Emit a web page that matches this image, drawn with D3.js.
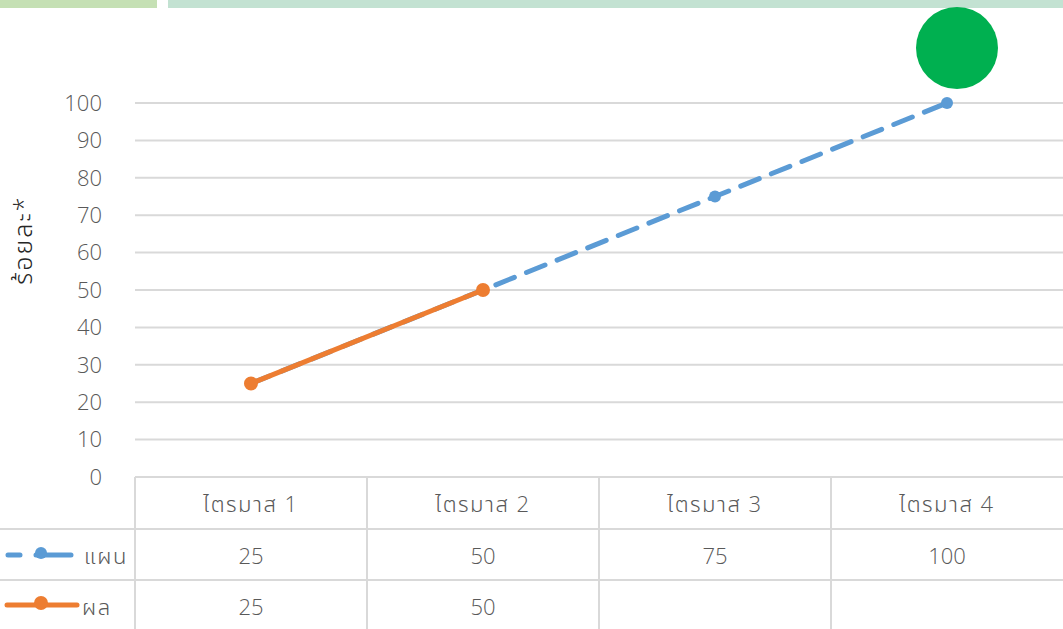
<!DOCTYPE html>
<html><head><meta charset="utf-8">
<script src="https://cdn.jsdelivr.net/npm/d3@7/dist/d3.min.js"></script>
<style>body{margin:0;background:#fff;} svg{display:block;font-family:"Open Sans","Noto Sans","Noto Sans Thai",sans-serif;}</style>
</head><body><svg id="c" width="1063" height="629"></svg>
<script>
const categories = ["ไตรมาส 1","ไตรมาส 2","ไตรมาส 3","ไตรมาส 4"];
const planValues = [25,50,75,100];
const actualValues = [25,50,null,null];
const seriesNames = ["แผน","ผล"];
const yTicks = [0,10,20,30,40,50,60,70,80,90,100];
const yLabel = "ร้อยละ*";

(function(){
const svg = d3.select("#c");
const W=1063,H=629;
const pLeft=135,pRight=1063,pTop=103,pBottom=477;
const x = d3.scaleBand().domain(categories).range([pLeft,pRight]);
const y = d3.scaleLinear().domain([0,100]).range([pBottom,pTop]);
const cx = d => x(d)+x.bandwidth()/2;
const txt = "#595959", fs = 22, fw = 300;

svg.append("rect").attr("x",0).attr("y",0).attr("width",157).attr("height",8).attr("fill","#C5E0B4");
svg.append("rect").attr("x",168).attr("y",0).attr("width",W-168).attr("height",8).attr("fill","#C3E2D2");

svg.append("g").selectAll("line").data(yTicks.filter(t=>t>0)).join("line")
  .attr("x1",pLeft).attr("x2",pRight).attr("y1",d=>y(d)).attr("y2",d=>y(d))
  .attr("stroke","#D9D9D9").attr("stroke-width",2);

svg.append("g").selectAll("text").data(yTicks).join("text")
  .attr("x",102).attr("y",d=>y(d)).attr("dy","0.35em").attr("text-anchor","end")
  .attr("font-size",fs).attr("font-weight",fw).attr("fill",txt).text(d=>d);

svg.append("text").attr("transform","translate(32,240) rotate(-90)")
  .attr("text-anchor","middle").attr("font-size",25).attr("font-weight",300).attr("letter-spacing",2).attr("fill","#262626").text(yLabel);

const tg = svg.append("g").attr("stroke","#D9D9D9").attr("stroke-width",2);
tg.append("line").attr("x1",pLeft).attr("x2",pRight).attr("y1",pBottom).attr("y2",pBottom);
tg.append("line").attr("x1",0).attr("x2",pRight).attr("y1",529).attr("y2",529);
tg.append("line").attr("x1",0).attr("x2",pRight).attr("y1",580).attr("y2",580);
tg.selectAll("line.v").data(categories).join("line").attr("class","v")
  .attr("x1",d=>x(d)).attr("x2",d=>x(d)).attr("y1",pBottom).attr("y2",H);

svg.append("g").selectAll("text").data(categories).join("text")
  .attr("x",d=>cx(d)).attr("y",504).attr("dy","0.35em").attr("text-anchor","middle")
  .attr("font-size",fs).attr("font-weight",fw).attr("letter-spacing",1.5).attr("fill",txt).text(d=>d);
svg.append("g").selectAll("text").data(planValues).join("text")
  .attr("x",(d,i)=>cx(categories[i])).attr("y",556).attr("dy","0.35em").attr("text-anchor","middle")
  .attr("font-size",fs).attr("font-weight",fw).attr("fill",txt).text(d=>d);
svg.append("g").selectAll("text").data(actualValues).join("text")
  .attr("x",(d,i)=>cx(categories[i])).attr("y",607).attr("dy","0.35em").attr("text-anchor","middle")
  .attr("font-size",fs).attr("font-weight",fw).attr("fill",txt).text(d=>d==null?"":d);

const blue="#5B9BD5", orange="#ED7D31";
svg.append("line").attr("x1",8).attr("x2",71).attr("y1",555).attr("y2",555)
  .attr("stroke",blue).attr("stroke-width",5).attr("stroke-linecap","round").attr("stroke-dasharray","12,16,36,100");
svg.append("circle").attr("cx",41).attr("cy",553).attr("r",6).attr("fill",blue);
svg.append("text").attr("x",84).attr("y",556).attr("dy","0.35em").attr("font-size",fs).attr("font-weight",fw).attr("letter-spacing",1.5).attr("fill",txt).text(seriesNames[0]);
svg.append("line").attr("x1",7).attr("x2",77).attr("y1",605).attr("y2",605)
  .attr("stroke",orange).attr("stroke-width",5).attr("stroke-linecap","round");
svg.append("circle").attr("cx",41).attr("cy",603).attr("r",7).attr("fill",orange);
svg.append("text").attr("x",82).attr("y",607).attr("dy","0.35em").attr("font-size",fs).attr("font-weight",fw).attr("letter-spacing",1.5).attr("fill",txt).text(seriesNames[1]);

const line = d3.line().defined(d=>d.v!=null).x(d=>cx(d.c)).y(d=>y(d.v));
const planData = categories.map((c,i)=>({c,v:planValues[i]}));
const actData = categories.map((c,i)=>({c,v:actualValues[i]}));
svg.append("path").datum(planData).attr("d",line).attr("fill","none").attr("stroke",blue)
  .attr("stroke-width",5).attr("stroke-dasharray","20,13").attr("stroke-linecap","round");
svg.append("g").selectAll("circle").data(planData).join("circle")
  .attr("cx",d=>cx(d.c)).attr("cy",d=>y(d.v)).attr("r",6).attr("fill",blue);
svg.append("path").datum(actData).attr("d",line).attr("fill","none").attr("stroke",orange)
  .attr("stroke-width",5).attr("stroke-linecap","round");
svg.append("g").selectAll("circle").data(actData.filter(d=>d.v!=null)).join("circle")
  .attr("cx",d=>cx(d.c)).attr("cy",d=>y(d.v)).attr("r",7).attr("fill",orange);

svg.append("circle").attr("cx",cx(categories[3])+10).attr("cy",48).attr("r",41).attr("fill","#00B050");
})();
</script></body></html>
